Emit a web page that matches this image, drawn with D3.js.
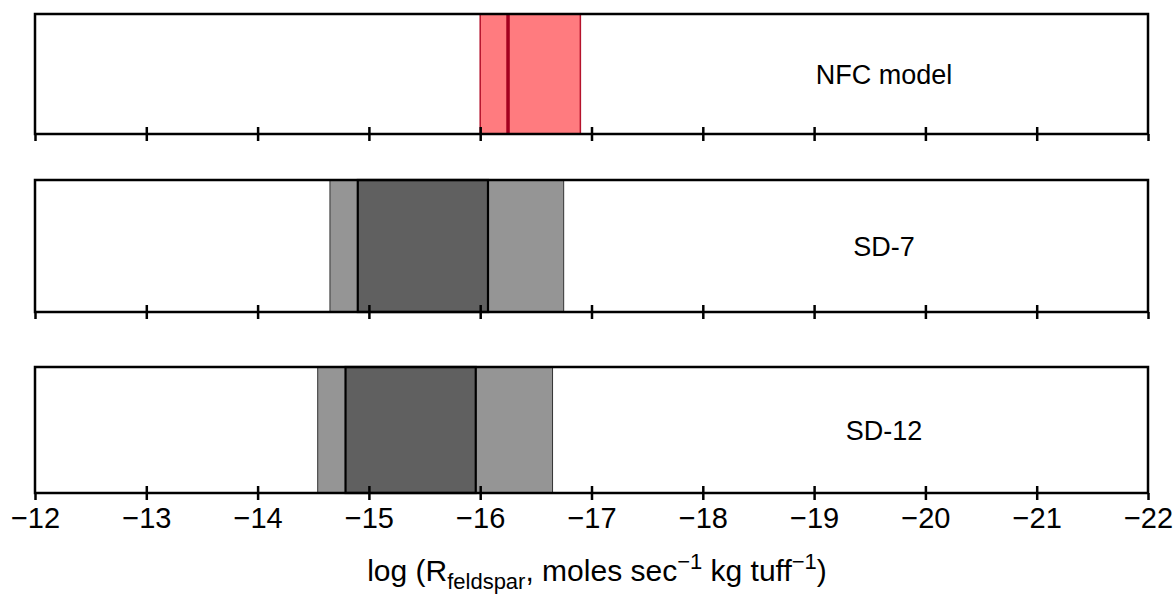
<!DOCTYPE html>
<html lang="en">
    <head>
        <meta charset="utf-8">
        <title>Feldspar rates</title>
        <script type="text/javascript" src="https://cdn.jsdelivr.net/npm/d3@7"></script>
        <style type="text/css">
            body { margin: 0; background: white; }
            text { font-family: Arial, "Liberation Sans", sans-serif; fill: black; }
        </style>
    </head>
    <body>
<svg width="1173" height="599" id="chart"></svg>

<script>

// panels, top to bottom
var categories = ["NFC model", "SD-7", "SD-12"];
// outer (light) range for each panel
var outerLo = [-16.0, -14.65, -14.54];
var outerHi = [-16.9, -16.75, -16.65];
// inner (dark) range, null for the model panel
var innerLo = [null, -14.9, -14.79];
var innerHi = [null, -16.07, -15.96];
// best value line of the model
var modelBest = -16.25;
var tickValues = [-12, -13, -14, -15, -16, -17, -18, -19, -20, -21, -22];

var svg = d3.select("svg#chart");

var x = d3.scaleLinear()
    .domain([-12, -22])
    .range([35, 1148]);

var panelTop = [14, 180, 367],
    panelBottom = [134, 312, 493];

categories.forEach(function(name, i) {
  var g = svg.append("g");
  var top = panelTop[i], bottom = panelBottom[i];

  if (i == 0) {
    g.append("rect")
      .attr("x", x(outerLo[i]))
      .attr("y", top)
      .attr("width", x(outerHi[i]) - x(outerLo[i]))
      .attr("height", bottom - top)
      .style("fill", "#ff7b7f")
      .style("stroke", "#b5122c")
      .style("stroke-width", 1.5);
    g.append("line")
      .attr("x1", x(modelBest)).attr("x2", x(modelBest))
      .attr("y1", top).attr("y2", bottom)
      .style("stroke", "#a3001f")
      .style("stroke-width", 3.5);
  } else {
    g.append("rect")
      .attr("x", x(outerLo[i]))
      .attr("y", top)
      .attr("width", x(outerHi[i]) - x(outerLo[i]))
      .attr("height", bottom - top)
      .style("fill", "#959595")
      .style("stroke", "#333")
      .style("stroke-width", 1);
    g.append("rect")
      .attr("x", x(innerLo[i]))
      .attr("y", top)
      .attr("width", x(innerHi[i]) - x(innerLo[i]))
      .attr("height", bottom - top)
      .style("fill", "#606060")
      .style("stroke", "black")
      .style("stroke-width", 2.2);
  }

  // frame
  g.append("rect")
    .attr("x", x(-12))
    .attr("y", top)
    .attr("width", x(-22) - x(-12))
    .attr("height", bottom - top)
    .style("fill", "none")
    .style("stroke", "black")
    .style("stroke-width", 2.5);

  var axis = d3.axisBottom(x)
    .tickValues(tickValues)
    .tickSize(7)
    .tickSizeOuter(0)
    .tickFormat(i == categories.length - 1 ? function(d) { return "\u2212" + Math.abs(d); } : "");

  var ax = g.append("g")
    .attr("transform", "translate(0," + bottom + ")")
    .call(axis);
  ax.select(".domain").remove();
  ax.selectAll(".tick line")
    .attr("y1", function(d) { return (d == -12 || d == -22) ? 0 : -7; })
    .style("stroke", "black")
    .style("stroke-width", 2.5);
  ax.selectAll(".tick text")
    .attr("y", 14)
    .attr("dy", "0.72em")
    .style("font-size", "29px")
    .style("font-family", "Arial, 'Liberation Sans', sans-serif");

  g.append("text")
    .attr("x", 884)
    .attr("y", (top + bottom) / 2 + 10)
    .attr("text-anchor", "middle")
    .style("font-size", "27px")
    .text(name);
});

// axis title
var title = svg.append("text")
  .attr("x", 597)
  .attr("y", 581)
  .attr("text-anchor", "middle")
  .style("font-size", "30px");
title.append("tspan").text("log (R");
title.append("tspan").attr("dy", 8).style("font-size", "22px").text("feldspar");
title.append("tspan").attr("dy", -8).text(", moles sec");
title.append("tspan").attr("dy", -12).style("font-size", "22px").text("\u22121");
title.append("tspan").attr("dy", 12).text(" kg tuff");
title.append("tspan").attr("dy", -12).style("font-size", "22px").text("\u22121");
title.append("tspan").attr("dy", 12).text(")");

</script>

    </body>
</html>
